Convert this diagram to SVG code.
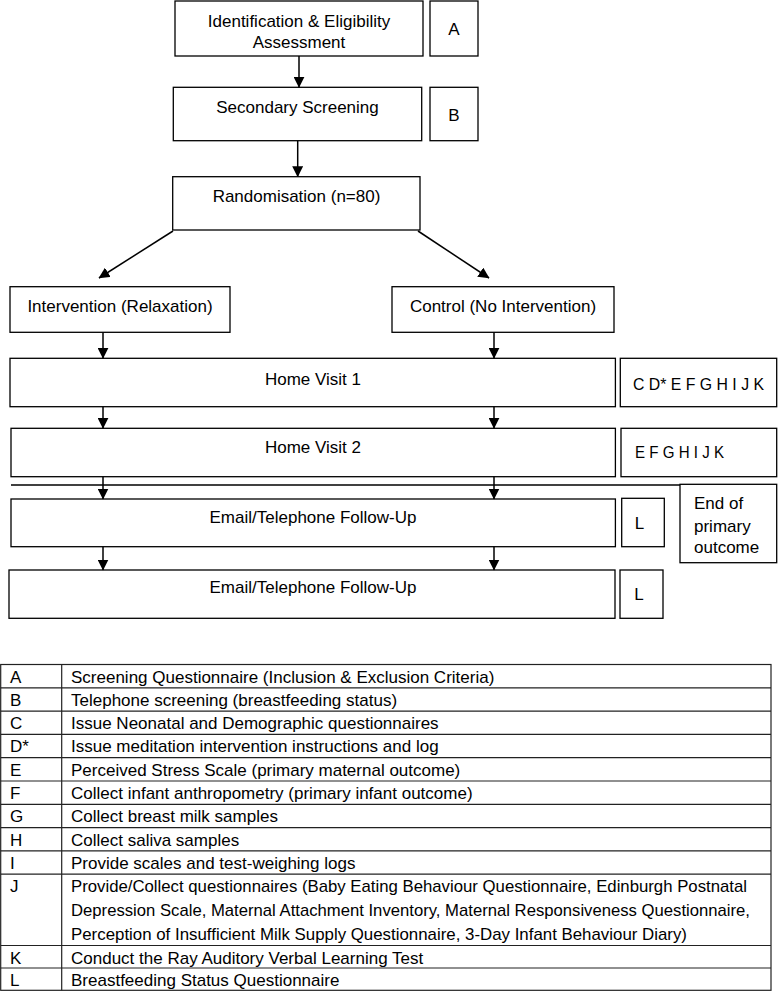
<svg xmlns="http://www.w3.org/2000/svg" width="778" height="991" viewBox="0 0 778 991">
<defs>
<marker id="ah" markerUnits="userSpaceOnUse" markerWidth="11" markerHeight="11" refX="10.5" refY="5.5" orient="auto"><path d="M0,0 L11,5.5 L0,11 z" fill="#000"/></marker>
<style>
.b{fill:#fff;stroke:#000;stroke-width:1.3}
.t{font-family:'Liberation Sans',Arial,sans-serif;font-size:17px;fill:#000}
.c{text-anchor:middle}
.cn{stroke:#000;stroke-width:1.5;fill:none;marker-end:url(#ah)}
.tl{stroke:#222;stroke-width:1.2;fill:none}
</style>
</defs>
<rect width="778" height="991" fill="#fff"/>

<g id="n1"><rect class="b" x="175" y="1" width="248" height="55"/><text class="t c" x="299" y="26.7">Identification &amp; Eligibility</text><text class="t c" x="299" y="48.3">Assessment</text></g>
<g id="nA"><rect class="b" x="430" y="1" width="48" height="55"/><text class="t c" x="454" y="35">A</text></g>
<g id="n2"><rect class="b" x="173.3" y="87.3" width="248.4" height="53.4"/><text class="t c" x="297.5" y="113.3">Secondary Screening</text></g>
<g id="nB"><rect class="b" x="430" y="87.3" width="48" height="53.4"/><text class="t c" x="454" y="120.7">B</text></g>
<g id="n3"><rect class="b" x="172.7" y="176.7" width="247.3" height="53.3"/><text class="t c" x="296.5" y="202.3">Randomisation (n=80)</text></g>
<g id="n4"><rect class="b" x="10" y="286.7" width="220" height="45.6"/><text class="t c" x="120" y="311.7">Intervention (Relaxation)</text></g>
<g id="n5"><rect class="b" x="392" y="286.7" width="222" height="45.6"/><text class="t c" x="503" y="311.7">Control (No Intervention)</text></g>
<g id="n6"><rect class="b" x="10" y="358.3" width="605.4" height="48.4"/><text class="t c" x="313" y="385">Home Visit 1</text></g>
<g id="n7"><rect class="b" x="620.3" y="358.3" width="156.4" height="48.4"/><text class="t" x="633" y="390" textLength="131" lengthAdjust="spacingAndGlyphs">C D* E F G H I J K</text></g>
<g id="n8"><rect class="b" x="11" y="428.3" width="604.4" height="48.4"/><text class="t c" x="313" y="453.3">Home Visit 2</text></g>
<g id="n9"><rect class="b" x="621" y="428.3" width="155.7" height="48.4"/><text class="t" x="635" y="458.3" textLength="89" lengthAdjust="spacingAndGlyphs">E F G H I J K</text></g>
<g id="separator"><line x1="11" y1="485" x2="739" y2="485" stroke="#000" stroke-width="1.5"/></g>
<g id="n10"><rect class="b" x="680" y="484.3" width="96.7" height="78.4"/><text class="t" x="694" y="509.3">End of</text><text class="t" x="694" y="531.5">primary</text><text class="t" x="694" y="553.3">outcome</text></g>
<g id="n11"><rect class="b" x="11" y="499" width="604.4" height="47.7"/><text class="t c" x="313" y="523.3">Email/Telephone Follow-Up</text></g>
<g id="n12"><rect class="b" x="621.7" y="498.3" width="42.6" height="48.4"/><text class="t c" x="639.5" y="529">L</text></g>
<g id="n13"><rect class="b" x="9" y="570" width="606" height="48.3"/><text class="t c" x="313" y="593.3">Email/Telephone Follow-Up</text></g>
<g id="n14"><rect class="b" x="620" y="570" width="43" height="48.3"/><text class="t c" x="639" y="600">L</text></g>

<g id="connectors">
<line class="cn" x1="299" y1="56" x2="299" y2="87.3"/>
<line class="cn" x1="297.7" y1="140.7" x2="297.7" y2="176.7"/>
<line class="cn" x1="173" y1="231" x2="99" y2="278"/>
<line class="cn" x1="418" y1="231" x2="489" y2="278"/>
<line class="cn" x1="103" y1="332.3" x2="103" y2="358.3"/>
<line class="cn" x1="494" y1="332.3" x2="494" y2="358.3"/>
<line class="cn" x1="103" y1="406.7" x2="103" y2="428.3"/>
<line class="cn" x1="494" y1="406.7" x2="494" y2="428.3"/>
<line class="cn" x1="103" y1="476.7" x2="103" y2="499"/>
<line class="cn" x1="494" y1="476.7" x2="494" y2="499"/>
<line class="cn" x1="103" y1="546.7" x2="103" y2="570"/>
<line class="cn" x1="494" y1="546.7" x2="494" y2="570"/>
</g>

<g id="legend">
<rect class="tl" x="0.7" y="664.5" width="770.3" height="325.8"/>
<line class="tl" x1="61.7" y1="664.5" x2="61.7" y2="990.3"/>
<line class="tl" x1="0.7" y1="687.8" x2="771" y2="687.8"/>
<line class="tl" x1="0.7" y1="711.1" x2="771" y2="711.1"/>
<line class="tl" x1="0.7" y1="734.4" x2="771" y2="734.4"/>
<line class="tl" x1="0.7" y1="757.7" x2="771" y2="757.7"/>
<line class="tl" x1="0.7" y1="781" x2="771" y2="781"/>
<line class="tl" x1="0.7" y1="804.3" x2="771" y2="804.3"/>
<line class="tl" x1="0.7" y1="827.6" x2="771" y2="827.6"/>
<line class="tl" x1="0.7" y1="850.9" x2="771" y2="850.9"/>
<line class="tl" x1="0.7" y1="874.2" x2="771" y2="874.2"/>
<line class="tl" x1="0.7" y1="945.5" x2="771" y2="945.5"/>
<line class="tl" x1="0.7" y1="968" x2="771" y2="968"/>
<text class="t" x="10" y="682.5">A</text><text class="t" x="71" y="682.5">Screening Questionnaire (Inclusion &amp; Exclusion Criteria)</text>
<text class="t" x="10" y="705.8">B</text><text class="t" x="71" y="705.8">Telephone screening (breastfeeding status)</text>
<text class="t" x="10" y="729.1">C</text><text class="t" x="71" y="729.1">Issue Neonatal and Demographic questionnaires</text>
<text class="t" x="10" y="752.4">D*</text><text class="t" x="71" y="752.4">Issue meditation intervention instructions and log</text>
<text class="t" x="10" y="775.7">E</text><text class="t" x="71" y="775.7">Perceived Stress Scale (primary maternal outcome)</text>
<text class="t" x="10" y="799">F</text><text class="t" x="71" y="799">Collect infant anthropometry (primary infant outcome)</text>
<text class="t" x="10" y="822.3">G</text><text class="t" x="71" y="822.3">Collect breast milk samples</text>
<text class="t" x="10" y="845.6">H</text><text class="t" x="71" y="845.6">Collect saliva samples</text>
<text class="t" x="10" y="868.9">I</text><text class="t" x="71" y="868.9">Provide scales and test-weighing logs</text>
<text class="t" x="10" y="892.2">J</text>
<text class="t" x="71" y="892.2" textLength="676" lengthAdjust="spacingAndGlyphs">Provide/Collect questionnaires (Baby Eating Behaviour Questionnaire, Edinburgh Postnatal</text>
<text class="t" x="71" y="916.2" textLength="679" lengthAdjust="spacingAndGlyphs">Depression Scale, Maternal Attachment Inventory, Maternal Responsiveness Questionnaire,</text>
<text class="t" x="71" y="940.2" textLength="616" lengthAdjust="spacingAndGlyphs">Perception of Insufficient Milk Supply Questionnaire, 3-Day Infant Behaviour Diary)</text>
<text class="t" x="10" y="963.5">K</text><text class="t" x="71" y="963.5">Conduct the Ray Auditory Verbal Learning Test</text>
<text class="t" x="10" y="986">L</text><text class="t" x="71" y="986">Breastfeeding Status Questionnaire</text>
</g>
</svg>
